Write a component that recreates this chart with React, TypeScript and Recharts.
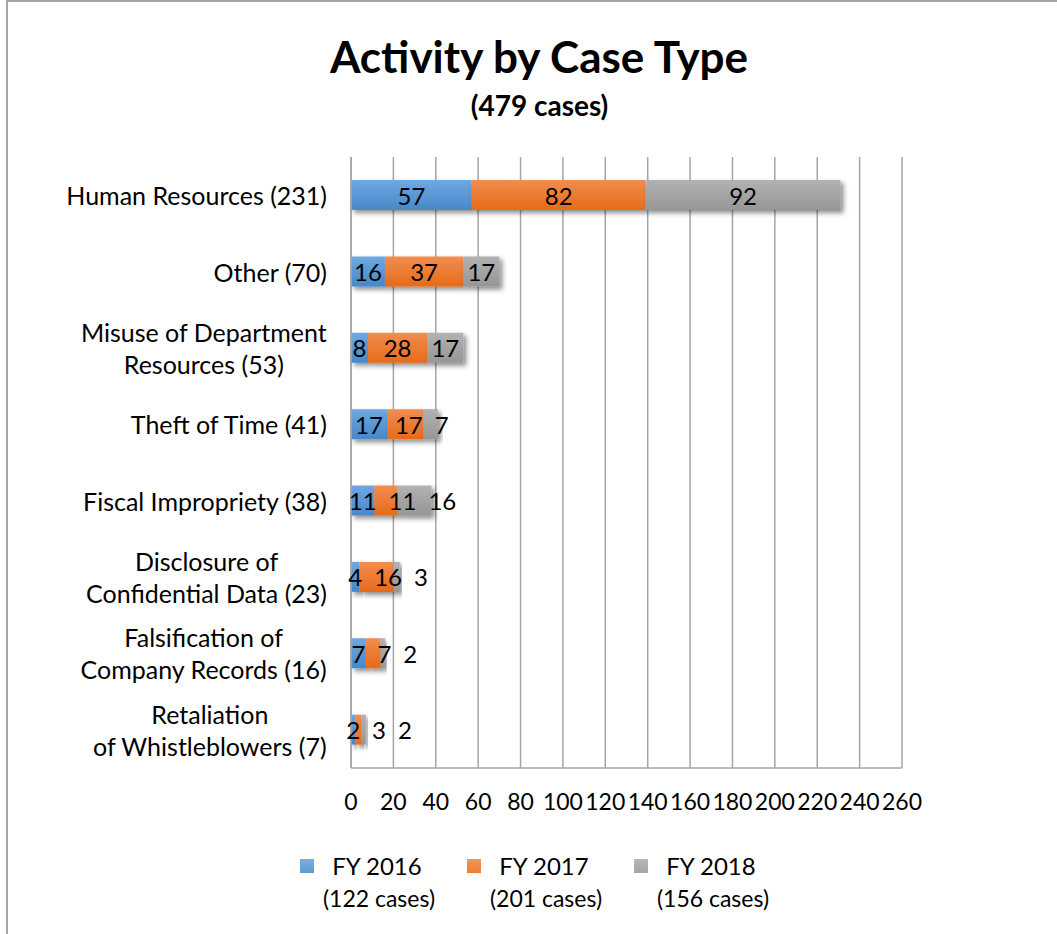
import { BarChart, Bar, XAxis, YAxis, CartesianGrid, LabelList, Legend } from "recharts";

const categories = [
  "Human Resources (231)",
  "Other (70)",
  "Misuse of Department\nResources (53)",
  "Theft of Time (41)",
  "Fiscal Impropriety (38)",
  "Disclosure of\nConfidential Data (23)",
  "Falsification of\nCompany Records (16)",
  "Retaliation\nof Whistleblowers (7)",
];
const fy2016 = [57, 16, 8, 17, 11, 4, 7, 2];
const fy2017 = [82, 37, 28, 17, 11, 16, 7, 3];
const fy2018 = [92, 17, 17, 7, 16, 3, 2, 2];
const xTicks = [0, 20, 40, 60, 80, 100, 120, 140, 160, 180, 200, 220, 240, 260];

const series = [
  { key: "fy2016", name: "FY 2016", cases: "(122 cases)", grad: "gBlue", color: "#5b9bd5", values: fy2016 },
  { key: "fy2017", name: "FY 2017", cases: "(201 cases)", grad: "gOrange", color: "#ed7d31", values: fy2017 },
  { key: "fy2018", name: "FY 2018", cases: "(156 cases)", grad: "gGray", color: "#a5a5a5", values: fy2018 },
];

const data = categories.map((c, i) => ({ name: c, fy2016: fy2016[i], fy2017: fy2017[i], fy2018: fy2018[i] }));

const FONT = "Lato, 'Open Sans', sans-serif";
const GRID = "#a6a6a6";
const CAT_SIZE = 25;
const LABEL_SIZE = 24;

let ctx: CanvasRenderingContext2D | null = null;
function textWidth(s: string, size: number) {
  if (!ctx) ctx = document.createElement("canvas").getContext("2d");
  if (!ctx) return s.length * size * 0.5;
  ctx.font = `${size}px Lato`;
  return ctx.measureText(s).width;
}

function CategoryTick(props: any) {
  const { x, y, payload } = props;
  const lines = String(payload.value).split("\n");
  const size = CAT_SIZE;
  const right = x - 16;
  const maxW = Math.max(...lines.map((l) => textWidth(l, size)));
  const cx = right - maxW / 2;
  const lh = 32;
  return (
    <g>
      {lines.map((l, i) => (
        <text
          key={i}
          x={lines.length > 1 ? cx : right}
          y={y + (i - (lines.length - 1) / 2) * lh}
          textAnchor={lines.length > 1 ? "middle" : "end"}
          dominantBaseline="central"
          fontFamily={FONT}
          fontSize={size}
          fill="#000"
        >
          {l}
        </text>
      ))}
    </g>
  );
}

// data labels sit in the middle of their segment, pushed right when they would collide
function makeLabel(si: number) {
  return (props: any) => {
    const { x, y, width, height, value, index } = props;
    const k = width / value;
    const before = series.slice(0, si).reduce((s, r) => s + r.values[index], 0);
    let start = x - before * k;
    let prevRight = -Infinity;
    let cx = 0;
    for (let j = 0; j <= si; j++) {
      const v = series[j].values[index];
      const w = v * k;
      const half = textWidth(String(v), LABEL_SIZE) / 2;
      cx = Math.max(start + w / 2, prevRight + 12 + half);
      prevRight = cx + half;
      start += w;
    }
    return (
      <text
        x={cx}
        y={y + height / 2}
        textAnchor="middle"
        dominantBaseline="central"
        fontFamily={FONT}
        fontSize={LABEL_SIZE}
        fill="#000"
      >
        {value}
      </text>
    );
  };
}

function LegendBox() {
  return (
    <div style={{ display: "flex", fontFamily: FONT, fontSize: 23, color: "#000", paddingLeft: 300 }}>
      {series.map((s) => (
        <div key={s.key} style={{ display: "flex", width: 167, alignItems: "flex-start" }}>
          <div
            style={{
              width: 14,
              height: 14,
              marginTop: 9,
              flexShrink: 0,
              background: `linear-gradient(${s.color}cc, ${s.color})`,
            }}
          />
          <div style={{ textAlign: "center", marginLeft: 0, lineHeight: "32px", width: 130, whiteSpace: "nowrap" }}>
            <div style={{ marginLeft: -4, fontSize: 24 }}>{s.name}</div>
            <div>{s.cases}</div>
          </div>
        </div>
      ))}
    </div>
  );
}

export default function App() {
  return (
    <div style={{ position: "absolute", left: 0, top: 0, width: 1057, height: 934, overflow: "hidden", background: "#fff" }}>
      <svg width={0} height={0} style={{ position: "absolute" }}>
        <defs>
          <linearGradient id="gBlue" x1="0" y1="0" x2="0" y2="1">
            <stop offset="0%" stopColor="#70a8e0" />
            <stop offset="100%" stopColor="#4688c9" />
          </linearGradient>
          <linearGradient id="gOrange" x1="0" y1="0" x2="0" y2="1">
            <stop offset="0%" stopColor="#f28d50" />
            <stop offset="100%" stopColor="#e56b19" />
          </linearGradient>
          <linearGradient id="gGray" x1="0" y1="0" x2="0" y2="1">
            <stop offset="0%" stopColor="#b2b2b2" />
            <stop offset="100%" stopColor="#969696" />
          </linearGradient>
          <filter id="shadow" x="-20%" y="-20%" width="150%" height="160%">
            <feDropShadow dx="3" dy="3" stdDeviation="2.5" floodColor="#000" floodOpacity="0.45" />
          </filter>
        </defs>
      </svg>
      <div
        style={{
          position: "absolute",
          left: 6,
          top: 0,
          width: 1200,
          height: 1200,
          borderLeft: `2px solid ${GRID}`,
          borderTop: `2px solid ${GRID}`,
        }}
      />
      <div style={{ position: "absolute", left: 0, width: 1078, top: 28, lineHeight: "56px", textAlign: "center", fontFamily: FONT, fontWeight: 700, fontSize: 44 }}>
        Activity by Case Type
      </div>
      <div style={{ position: "absolute", left: 0, width: 1079, top: 86, lineHeight: "38px", textAlign: "center", fontFamily: FONT, fontWeight: 700, fontSize: 28 }}>
        (479 cases)
      </div>
      <div style={{ position: "absolute", left: 0, top: 0 }}>
        <BarChart
          width={1057}
          height={934}
          data={data}
          layout="vertical"
          margin={{ top: 157, right: 155, bottom: 0, left: 0 }}
          barSize={30}
        >
          <CartesianGrid horizontal={false} vertical stroke={GRID} strokeWidth={1.5} />
          <XAxis
            type="number"
            domain={[0, 260]}
            ticks={xTicks}
            interval={0}
            axisLine={{ stroke: GRID, strokeWidth: 1.5 }}
            tickLine={false}
            tickMargin={20}
            tick={{ fontFamily: FONT, fontSize: 23, fill: "#000" }}
            height={102}
          />
          <YAxis
            type="category"
            dataKey="name"
            width={351}
            axisLine={{ stroke: GRID, strokeWidth: 1.5 }}
            tickLine={false}
            tick={<CategoryTick />}
            interval={0}
          />
          <Legend
            verticalAlign="bottom"
            content={() => <LegendBox />}
            wrapperStyle={{ position: "absolute", left: 0, top: 850, width: 1057, bottom: "auto" }}
          />
          {series.map((s, i) => (
            <Bar
              key={s.key}
              dataKey={s.key}
              name={s.name}
              stackId="a"
              fill={`url(#${s.grad})`}
              filter="url(#shadow)"
              isAnimationActive={false}
            >
              <LabelList dataKey={s.key} content={makeLabel(i)} />
            </Bar>
          ))}
        </BarChart>
      </div>
    </div>
  );
}
